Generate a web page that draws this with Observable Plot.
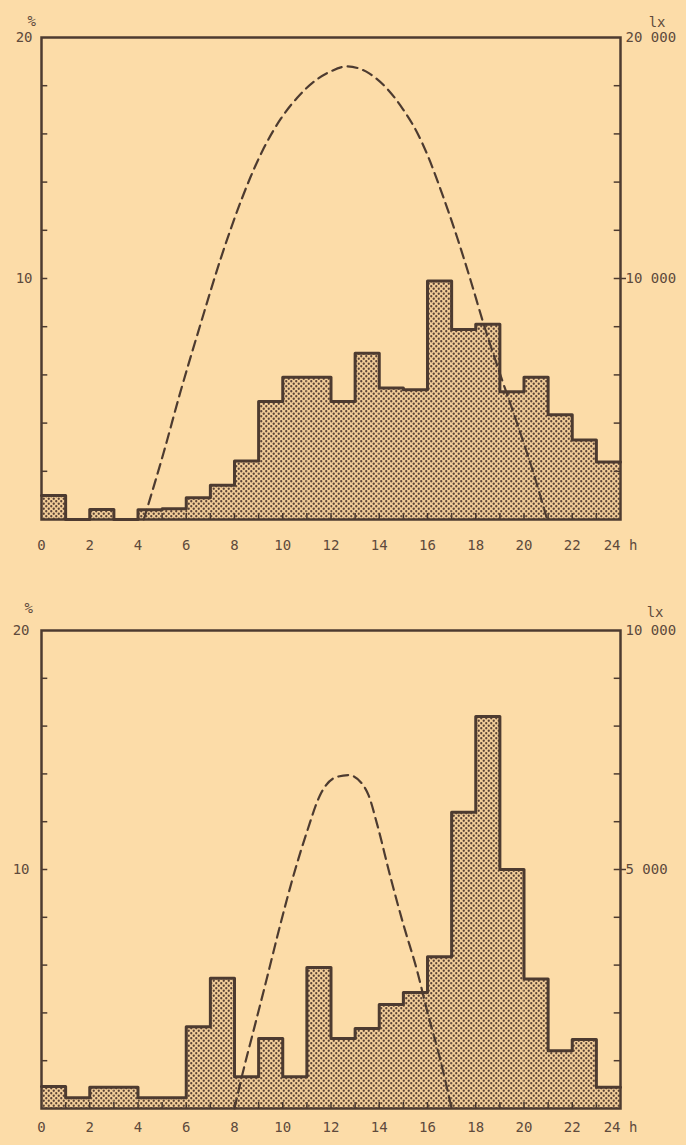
<!DOCTYPE html>
<html><head><meta charset="utf-8">
<script src="https://cdn.jsdelivr.net/npm/d3@7"></script>
<script src="https://cdn.jsdelivr.net/npm/@observablehq/plot@0.6"></script>
<style>
html,body{margin:0;padding:0;background:#fcdca8;}
#chart svg{display:block;}
</style></head><body>
<svg width="0" height="0" style="position:absolute">
<defs><pattern id="dots" width="5" height="5" patternUnits="userSpaceOnUse">
<rect width="5" height="5" fill="#f2cd98"/>
<circle cx="1.25" cy="1.25" r="1.15" fill="#5a4336"/>
<circle cx="3.75" cy="3.75" r="1.15" fill="#5a4336"/>
</pattern></defs></svg>
<div id="chart"></div>
<script>
// ---- data ----
const hours = d3.range(24);
// top chart: share of events per hour (%)
const topPct = [1.0, 0, 0.42, 0, 0.4, 0.45, 0.9, 1.42, 2.43, 4.9, 5.9, 5.9, 4.9, 6.9, 5.46, 5.38, 9.9, 7.88, 8.1, 5.3, 5.9, 4.35, 3.3, 2.39];
// bottom chart
const botPct = [0.92, 0.45, 0.89, 0.89, 0.45, 0.45, 3.42, 5.45, 1.33, 2.93, 1.33, 5.9, 2.93, 3.35, 4.35, 4.85, 6.35, 12.4, 16.4, 10.0, 5.42, 2.42, 2.89, 0.89];
// illuminance curves (lx)
const topCurveH   = [4.24, 5.07, 5.76, 6.59, 7.42, 8.3, 8.66, 9.21, 9.9, 10.6, 11.4, 12.0, 12.67, 13.6, 14.3, 15.0, 15.6, 16.05, 16.54, 17.23, 17.78, 18.33, 19.02, 19.71, 20.4, 20.96];
const topCurveLux = [0, 2800, 5300, 8100, 10800, 13300, 14200, 15400, 16600, 17500, 18250, 18600, 18800, 18500, 17900, 17000, 16000, 15000, 13700, 11700, 9950, 8100, 6000, 4000, 1900, 0];
const botCurveH   = [8.0, 8.32, 8.8, 9.35, 9.9, 10.46, 11.01, 11.56, 12.18, 12.73, 13.28, 13.56, 13.91, 14.46, 15.0, 15.57, 15.98, 16.54, 17.0];
const botCurveLux = [0, 700, 1650, 2740, 3850, 4900, 5800, 6570, 6925, 6975, 6800, 6550, 5950, 4850, 3850, 2880, 2050, 1000, 0];
// axes
const xTickLabels = [0, 2, 4, 6, 8, 10, 12, 14, 16, 18, 20, 22, 24];
const pctTickLabels = [10, 20];
const pctMinorTicks = [2, 4, 6, 8, 10, 12, 14, 16, 18];
const topLuxLabels = [10000, 20000];
const topLuxTicks = [2000, 4000, 6000, 8000, 10000, 12000, 14000, 16000, 18000];
const botLuxLabels = [5000, 10000];
const botLuxTicks = [1000, 2000, 3000, 4000, 5000, 6000, 7000, 8000, 9000];

const ink = "#4d3b30";
const textInk = "#5e4a3c";
const font = "DejaVu Sans Mono";
const fmtLux = v => d3.format(",")(v).replace(",", " ");

function chart({pct, curveH, curveLux, luxPerPct, luxLabels, luxTicks, midLux, height, marginTop, marginBottom, xPad, pctDx, pctDy, lxDx, lxDy, leftPad}) {
  const bars = hours.map((h, i) => ({h, v: pct[i]}));
  const step = [...bars, {h: 24, v: pct[23]}];
  const curve = curveH.map((h, i) => ({h, lux: curveLux[i]}));
  return Plot.plot({
    width: 686, height, marginTop, marginBottom, marginLeft: 41, marginRight: 66,
    style: {background: "transparent", fontFamily: font, fontSize: "14px", color: textInk},
    x: {domain: [0, 24], axis: null},
    y: {domain: [0, 20], axis: null},
    marks: [
      Plot.rectY(bars, {x1: "h", x2: d => d.h + 1, y: "v", fill: "url(#dots)"}),
      Plot.line(step, {x: "h", y: "v", curve: "step-after", stroke: ink, strokeWidth: 3}),
      Plot.line(curve, {x: "h", y: d => d.lux / luxPerPct, curve: "monotone-x", stroke: ink, strokeWidth: 2.2, strokeDasharray: "10,6"}),
      Plot.ruleY(pctMinorTicks, {y: d => d, x1: 0, x2: 0.26, stroke: ink, strokeWidth: 1.5}),
      Plot.ruleY(luxTicks, {y: d => d / luxPerPct, x1: 23.74, x2: 24, stroke: ink, strokeWidth: 1.5}),
      Plot.ruleY([midLux], {y: d => d / luxPerPct, x1: 24, x2: 24.25, stroke: ink, strokeWidth: 1.5}),
      Plot.ruleX(hours.slice(1), {x: d => d, y1: 0, y2: 0.25, stroke: ink, strokeWidth: 1.5}),
      Plot.frame({stroke: ink, strokeWidth: 2.5}),
      Plot.axisX({ticks: xTickLabels, tickSize: 0, tickPadding: xPad, label: null, tickFormat: d => d === 24 ? "24 h" : String(d)}),
      Plot.axisY({anchor: "left", ticks: pctTickLabels, tickSize: 0, tickPadding: leftPad, label: null}),
      Plot.axisY({anchor: "right", ticks: luxLabels.map(d => d / luxPerPct), tickSize: 0, tickPadding: 5, label: null,
        tickFormat: d => fmtLux(Math.round(d * luxPerPct))}),
      Plot.text(["%"], {frameAnchor: "top-left", dx: pctDx, dy: pctDy, fill: textInk}),
      Plot.text(["lx"], {frameAnchor: "top-right", dx: lxDx, dy: lxDy, fill: textInk})
    ]
  });
}

const root = document.getElementById("chart");
root.append(chart({pct: topPct, curveH: topCurveH, curveLux: topCurveLux, luxPerPct: 1000,
  luxLabels: topLuxLabels, luxTicks: topLuxTicks, midLux: 10000,
  height: 572, marginTop: 37, marginBottom: 53, xPad: 21, pctDx: -14, pctDy: -21, lxDx: 45, lxDy: -20, leftPad: 9}));
root.append(chart({pct: botPct, curveH: botCurveH, curveLux: botCurveLux, luxPerPct: 500,
  luxLabels: botLuxLabels, luxTicks: botLuxTicks, midLux: 5000,
  height: 573, marginTop: 58, marginBottom: 37, xPad: 14, pctDx: -17, pctDy: -27, lxDx: 43, lxDy: -23, leftPad: 12}));
</script>
</body></html>
